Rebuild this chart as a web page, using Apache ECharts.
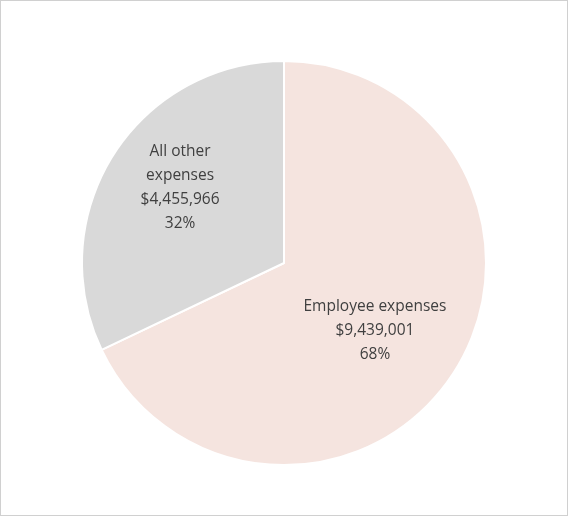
<!DOCTYPE html>
<html><head><meta charset="utf-8">
<script src="https://cdn.jsdelivr.net/npm/echarts@6/dist/echarts.min.js"></script>
<style>html,body{margin:0;padding:0;background:#fff}#c{width:566px;height:514px;border:1px solid #d0d0d0}</style>
</head><body><div id="c"></div>
<script>
const categories = ["Employee expenses", "All other expenses"];
const labelNames = ["Employee expenses", "All other\nexpenses"];
const values = [9439001, 4455966];
const percents = ["68%", "32%"];
const colors = ["#f5e4df", "#d9d9d9"];
const chart = echarts.init(document.getElementById('c'));
chart.setOption({
  animation:false,
  series:[{
    type:'pie', center:[283,262], radius:[0,202], startAngle:90, clockwise:true,
    itemStyle:{borderColor:'#fff', borderWidth:2},
    label:{position:'inside', color:'#404040', fontSize:15.5, lineHeight:24, fontFamily:'Open Sans, sans-serif',
      formatter:p=>labelNames[p.dataIndex]+'\n$'+values[p.dataIndex].toLocaleString('en-US')+'\n'+percents[p.dataIndex]},
    labelLine:{show:false},
    data:categories.map((c,i)=>({name:c,value:values[i],itemStyle:{color:colors[i]},
      label: i===1?{position:'inside', offset:[-16,-20]}:{offset:[3,12]}}))
  }]
});
</script></body></html>
